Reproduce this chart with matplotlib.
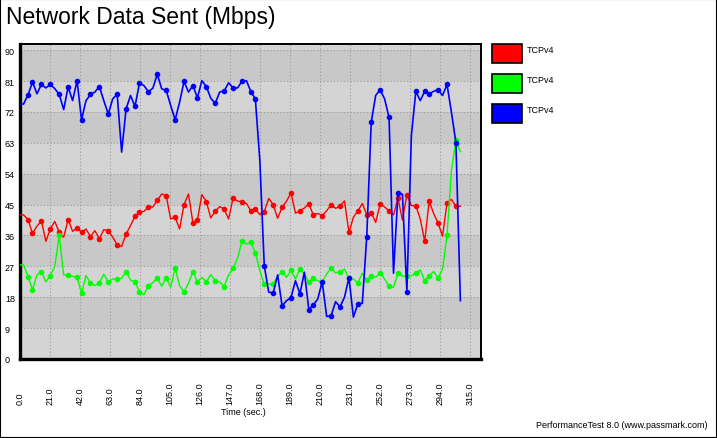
import numpy as np
import matplotlib
matplotlib.use('Agg')
import matplotlib.pyplot as plt
from matplotlib.patches import Rectangle

plt.rcParams['font.family'] = ['Liberation Sans', 'DejaVu Sans']

# samples every ~3.12 s; the graph holds the first value flat from t=0
times = [0.0] + list(np.round(2.5 + 3.12 * np.arange(99), 2))

red = [42.0, 40.6, 36.6, 38.7, 40.2, 34.3, 37.9, 40.1, 36.9, 35.5,
       40.6, 37.2, 38.2, 36.9, 37.9, 35.7, 37.4, 35.0, 37.7, 37.4,
       35.5, 33.3, 32.8, 36.4, 38.9, 41.6, 42.8, 43.0, 44.4, 44.3,
       46.2, 48.1, 47.6, 40.8, 41.3, 37.9, 45.0, 48.1, 39.6, 40.5,
       47.9, 45.9, 41.1, 43.1, 44.4, 43.7, 40.8, 46.9, 46.0, 45.9,
       45.3, 43.2, 43.7, 42.1, 42.9, 46.8, 45.0, 41.0, 44.2, 46.0,
       48.4, 42.5, 43.2, 44.0, 45.2, 42.0, 42.4, 41.8, 43.2, 45.0,
       43.9, 44.5, 46.1, 36.9, 41.3, 43.2, 45.3, 42.1, 42.6, 39.8,
       45.2, 44.3, 43.2, 42.0, 46.8, 40.5, 47.9, 44.7, 44.7, 40.8,
       34.3, 46.0, 42.4, 39.6, 35.8, 45.5, 46.5, 44.5, 44.5]

green = [27.4, 24.0, 20.2, 24.5, 25.5, 22.5, 24.3, 27.0, 36.0, 24.5,
         24.5, 24.1, 23.8, 19.2, 24.3, 22.2, 21.4, 22.2, 24.7, 22.5,
         23.3, 23.3, 23.5, 25.5, 23.0, 22.5, 19.6, 18.7, 21.4, 22.2,
         23.7, 21.2, 23.7, 20.9, 26.5, 21.4, 19.6, 22.1, 25.5, 22.5,
         23.8, 22.5, 24.6, 22.8, 22.5, 21.1, 24.5, 26.4, 29.4, 34.3,
         33.5, 34.0, 31.0, 25.8, 21.8, 21.8, 21.9, 24.0, 25.5, 23.8,
         25.8, 23.3, 26.2, 24.8, 22.4, 23.5, 22.8, 22.4, 24.8, 26.4,
         25.1, 25.5, 26.2, 23.5, 23.3, 22.2, 25.0, 23.0, 24.1, 23.8,
         25.1, 23.3, 21.2, 20.9, 25.0, 24.1, 24.3, 24.3, 25.0, 26.0,
         22.8, 24.3, 25.5, 23.6, 26.2, 36.0, 55.0, 63.7, 60.4]

blue = [74.3, 77.0, 80.7, 77.3, 80.0, 79.0, 80.0, 78.8, 77.1, 72.7,
        79.3, 75.3, 81.1, 69.7, 75.3, 77.1, 77.8, 79.4, 75.3, 71.4,
        75.8, 77.2, 60.3, 72.9, 76.8, 73.6, 80.4, 79.7, 77.9, 78.9,
        83.0, 78.7, 78.3, 73.9, 69.7, 74.8, 80.9, 77.8, 79.7, 76.1,
        81.1, 79.4, 76.0, 74.5, 77.8, 78.1, 80.5, 79.0, 79.0, 80.9,
        81.1, 77.9, 75.8, 58.0, 27.2, 19.5, 19.2, 24.5, 15.5, 17.0,
        17.9, 22.8, 19.0, 25.3, 14.4, 15.7, 17.5, 22.5, 12.4, 12.6,
        16.7, 15.2, 18.0, 23.7, 12.2, 16.1, 16.2, 35.7, 69.0, 76.8,
        78.5, 75.8, 70.4, 25.0, 48.5, 48.0, 19.6, 65.0, 78.0, 75.3,
        78.0, 77.3, 78.0, 78.5, 76.8, 80.0, 71.9, 63.0, 17.0]

series_names = ['TCPv4', 'TCPv4', 'TCPv4']
series_colors = ['#ff0000', '#00ff00', '#0000ff']

mark_idx = [1, 2, 4, 6, 8, 10, 12, 13, 15, 17, 19, 21, 23, 25, 26, 28, 30, 32,
            34, 36, 38, 39, 41, 43, 45, 47, 49, 51, 52, 54, 56, 58, 60, 62, 64,
            65, 67, 69, 71, 73, 75, 77, 78, 80, 82, 84, 86, 88, 90, 91, 93, 95, 97]
mark_idx = [i + 1 for i in mark_idx]

y_ticks = list(range(0, 91, 9))
x_ticks = [0, 21, 42, 63, 84, 105, 126, 147, 168, 189, 210, 231, 252, 273, 294, 315]

W, H = 717, 439
fig = plt.figure(figsize=(W / 100, H / 100), dpi=100)
fig.patch.set_facecolor('white')
ax = fig.add_axes([20 / W, (H - 360) / H, 461 / W, 315 / H])

# alternating grey bands
for k in range(11):
    c = '#d4d4d4' if k % 2 == 0 else '#c8c8c8'
    ax.axhspan(9 * k, 9 * k + 9, color=c, zorder=0, lw=0)

ax.set_xlim(0, 322.7)
ax.set_ylim(0, 91.8)
ax.set_axisbelow(True)
ax.grid(True, color='#999999', linestyle=(0, (1, 2)), linewidth=0.8)

for vals, col, lw in zip([red, green, blue], series_colors, [1.0, 1.0, 1.2]):
    ax.plot(times, [vals[0]] + vals, color=col, lw=lw, marker='o', ms=3.0,
            markevery=mark_idx, zorder=3)

ax.set_yticks(y_ticks)
ax.set_yticklabels([str(v) for v in y_ticks])
ax.tick_params(axis='y', length=0, pad=10.8, labelsize=6.5)
for lab in ax.get_yticklabels():
    lab.set_ha('left')

ax.set_xticks(x_ticks)
ax.set_xticklabels([f'{v:.1f}' for v in x_ticks])
ax.tick_params(axis='x', length=0, pad=32.4, labelsize=6.5, labelrotation=90)
for lab in ax.get_xticklabels():
    lab.set_va('bottom')

for s in ['left', 'bottom']:
    ax.spines[s].set_linewidth(2.4)
for s in ['top', 'right']:
    ax.spines[s].set_linewidth(1.4)

fig.text(6 / W, 1 - 6 / H, 'Network Data Sent (Mbps)', fontsize=16.5,
         ha='left', va='top')

for i, (name, col) in enumerate(zip(series_names, series_colors)):
    y0 = 45 + 30 * i
    fig.add_artist(Rectangle((492 / W, 1 - (y0 + 19) / H), 30 / W, 19 / H,
                             transform=fig.transFigure, fc=col, ec='black', lw=1.2))
    fig.text(527 / W, 1 - (y0 + 1) / H, name, fontsize=6.5, ha='left', va='top')

fig.text(243.5 / W, 1 - 412.5 / H, 'Time (sec.)', fontsize=6.5, ha='center', va='center')
fig.text(707 / W, 1 - 426 / H, 'PerformanceTest 8.0 (www.passmark.com)',
         fontsize=6.5, ha='right', va='center')

fig.add_artist(Rectangle((0, 0), 1, 1, transform=fig.transFigure, fill=False,
                         ec='black', lw=1.5))

fig.savefig('out.png', dpi=100)
